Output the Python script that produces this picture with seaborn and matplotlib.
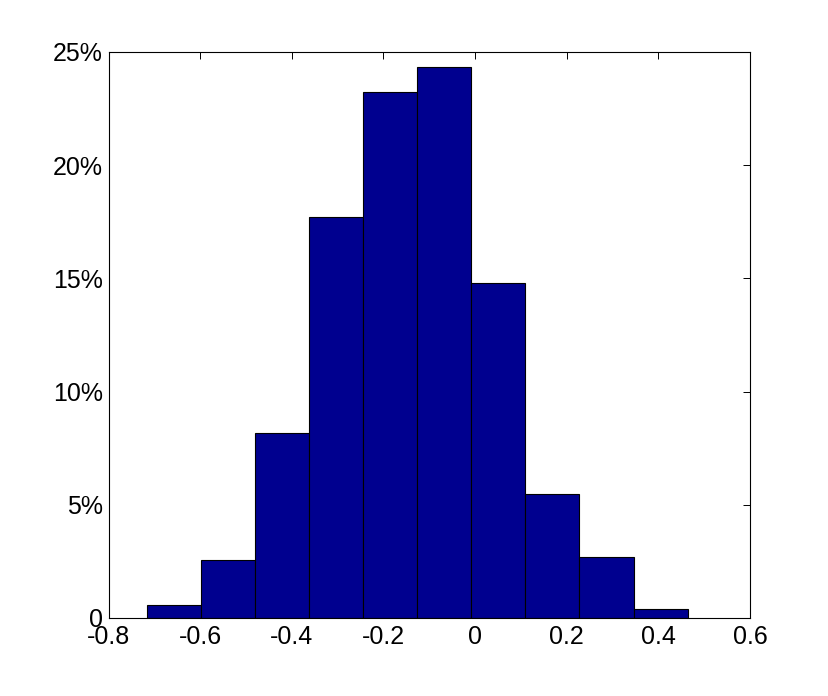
import numpy as np
import pandas as pd
import matplotlib
matplotlib.use("Agg")
import matplotlib.pyplot as plt
import seaborn as sns
from matplotlib.ticker import FuncFormatter

# Data (percent per bin)
bin_low = -0.717
bin_high = 0.464
n_bins = 10
percent = [0.57, 2.56, 8.17, 17.71, 23.23, 24.34, 14.80, 5.48, 2.69, 0.40]
x_ticks = [-0.8, -0.6, -0.4, -0.2, 0, 0.2, 0.4, 0.6]
y_ticks = [0, 5, 10, 15, 20, 25]

edges = np.linspace(bin_low, bin_high, n_bins + 1)
centers = (edges[:-1] + edges[1:]) / 2
df = pd.DataFrame({"x": centers, "w": percent})

sns.set_style("white")
plt.rcParams["font.family"] = ["Liberation Sans", "DejaVu Sans"]

fig = plt.figure(figsize=(8.29, 6.96), dpi=100)
ax = fig.add_axes([0.1309, 0.1121, 0.9047 - 0.1309, 0.9253 - 0.1121])

sns.histplot(data=df, x="x", weights="w", bins=n_bins, binrange=(bin_low, bin_high),
             stat="count", color="#00008F", alpha=1.0, edgecolor="black",
             linewidth=0.8, ax=ax)

ax.set_xlim(-0.8, 0.6)
ax.set_ylim(0, 25)
ax.set_xticks(x_ticks)
ax.set_yticks(y_ticks)
ax.xaxis.set_major_formatter(FuncFormatter(lambda v, p: "0" if abs(v) < 1e-9 else f"{v:g}"))
ax.yaxis.set_major_formatter(FuncFormatter(lambda v, p: "0" if v == 0 else f"{v:g}%"))
ax.set_xlabel("")
ax.set_ylabel("")
ax.tick_params(direction="in", length=5, width=0.7, top=True, right=True,
               labelsize=18, colors="black")
ax.tick_params(axis="x", pad=5)
ax.tick_params(axis="y", pad=4)
for s in ax.spines.values():
    s.set_visible(True)
    s.set_color("black")
    s.set_linewidth(0.8)

fig.savefig("out.png", dpi=100, facecolor="white")
